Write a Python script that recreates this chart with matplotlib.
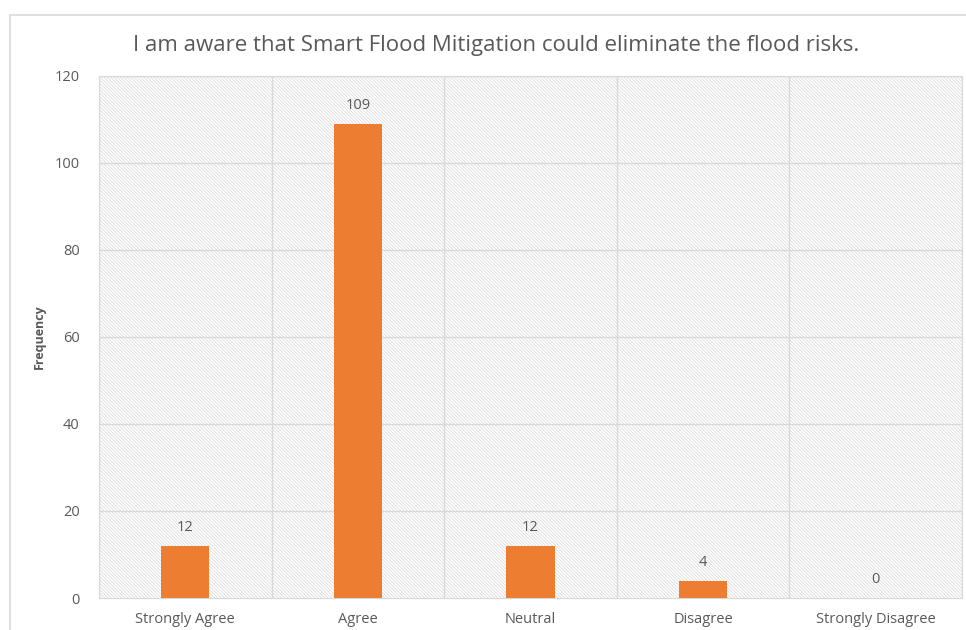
import numpy as np
import matplotlib.pyplot as plt
from matplotlib.patches import Rectangle

#%% Data
categories = ['Strongly Agree', 'Agree', 'Neutral', 'Disagree', 'Strongly Disagree']
counts = [12, 109, 12, 4, 0]

plt.rcParams['font.family'] = ['Open Sans', 'DejaVu Sans']
plt.rcParams['hatch.linewidth'] = 0.5
txt = '#595959'
grid = '#d9d9d9'

#%% Figure
fig = plt.figure(figsize=(9.66, 6.30), dpi=100)
fig.patches.append(Rectangle((10 / 966, -0.1), 1.2, 1 - 15 / 630 + 0.1,
                             transform=fig.transFigure, fill=False,
                             edgecolor=grid, linewidth=1.2, zorder=0))
ax = fig.add_axes([99 / 966, 1 - 598 / 630, 863 / 966, 522 / 630])

# hatched background
ax.patch.set_facecolor('white')
ax.add_patch(Rectangle((0, 0), 1, 1, transform=ax.transAxes, facecolor='white',
                       edgecolor='#d6d6d6', hatch='\\' * 10, linewidth=0, zorder=0))

x = np.arange(len(categories))
bars = ax.bar(x, counts, width=0.28, color='#ED7D31', zorder=3)
for xi, v in zip(x, counts):
    ax.text(xi, v + 2.5, str(v), ha='center', va='bottom', fontsize=10.5, color=txt)

ax.set_xlim(-0.5, len(categories) - 0.5)
ax.set_ylim(0, 120)
ax.set_yticks(range(0, 121, 20))
ax.set_xticks(x)
ax.set_xticklabels(categories)
for xb in np.arange(-0.5, len(categories), 1):
    ax.axvline(xb, color=grid, linewidth=1, zorder=1)
for yb in range(20, 121, 20):
    ax.axhline(yb, color=grid, linewidth=1, zorder=1)
for s in ax.spines.values():
    s.set_color(grid)
ax.tick_params(length=0, colors=txt, labelsize=10.5)
ax.tick_params(axis='x', pad=10)
ax.tick_params(axis='y', pad=14)
ax.set_ylabel('Frequency', fontsize=9, fontweight='bold', color=txt, labelpad=6)

fig.text(496 / 966, 1 - 45 / 630, 'I am aware that Smart Flood Mitigation could eliminate the flood risks.',
         ha='center', va='center', fontsize=16, color=txt)

plt.savefig('out.png', dpi=100)
